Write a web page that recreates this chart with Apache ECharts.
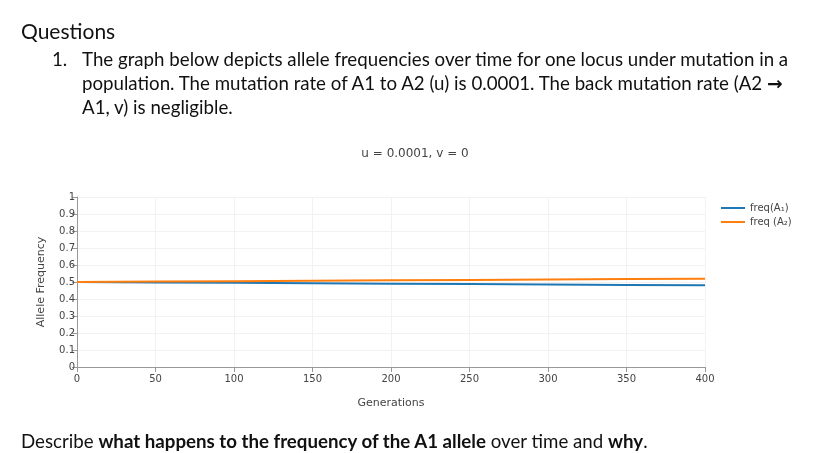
<!DOCTYPE html>
<html>
<head>
<meta charset="utf-8">
<script src="https://cdn.jsdelivr.net/npm/echarts@6/dist/echarts.min.js"></script>
<style>
  html, body { margin: 0; padding: 0; background: #fff; }
  #wrap { position: relative; width: 825px; height: 453px; overflow: hidden; }
  #chart { position: absolute; left: 0; top: 0; width: 825px; height: 453px; }
  .t { position: absolute; font-family: Lato, 'Noto Sans', sans-serif; color: #111; white-space: nowrap; font-size: 18.7px; }
  .arr { font-family: 'DejaVu Sans', sans-serif; font-weight: bold; }
</style>
</head>
<body>
<div id="wrap">
  <div id="chart"></div>
  <div class="t" style="left:21px;top:18px;font-size:21px;">Questions</div>
  <div class="t" style="left:52px;top:48px;">1.</div>
  <div class="t" style="left:82px;top:48px;">The graph below depicts allele frequencies over time for one locus under mutation in a</div>
  <div class="t" style="left:82px;top:72px;">population. The mutation rate of A1 to A2 (u) is 0.0001. The back mutation rate (A2 <span class="arr">&#x2192;</span></div>
  <div class="t" style="left:82px;top:96px;">A1, v) is negligible.</div>
  <div class="t" style="left:21px;top:430px;">Describe <b>what happens to the frequency of the A1 allele</b> over time and <b>why</b>.</div>
</div>
<script>
// generations sampled along the x axis
var generations = [0, 50, 100, 150, 200, 250, 300, 350, 400];
// values
var freqA1 = [0.5, 0.4975, 0.495, 0.4926, 0.4901, 0.4877, 0.4852, 0.4828, 0.4804];
var freqA2 = [0.5, 0.5025, 0.505, 0.5074, 0.5099, 0.5123, 0.5148, 0.5172, 0.5196];
var seriesNames = ['freq(A\u2081)', 'freq (A\u2082)'];
var seriesColors = ['#1f77b4', '#ff7f0e'];

function pairs(xs, ys) {
    var out = [];
    for (var i = 0; i < xs.length; i++) out.push([xs[i], ys[i]]);
    return out;
}

var chart = echarts.init(document.getElementById('chart'), null, { renderer: 'canvas' });
var axisFont = 'DejaVu Sans, Verdana, sans-serif';
chart.setOption({
    animation: false,
    title: {
        text: 'u = 0.0001, v = 0',
        left: 410, top: 143, textAlign: 'center',
        textStyle: { fontFamily: axisFont, fontSize: 12, fontWeight: 'normal', color: '#444' }
    },
    legend: {
        left: 716, top: 198, orient: 'vertical', itemGap: 4,
        itemWidth: 24, itemHeight: 2, icon: 'rect',
        textStyle: { fontFamily: axisFont, fontSize: 10, color: '#444' },
        data: seriesNames
    },
    grid: { left: 77, top: 197, width: 628, height: 170 },
    xAxis: {
        type: 'value', min: 0, max: 400, interval: 50,
        name: 'Generations', nameLocation: 'middle', nameGap: 31,
        nameTextStyle: { fontFamily: axisFont, fontSize: 11, color: '#444' },
        axisLine: { lineStyle: { color: '#999' } },
        axisTick: { show: true, length: 5, lineStyle: { color: '#999' } },
        axisLabel: { fontFamily: axisFont, fontSize: 10, color: '#444', margin: 7 },
        splitLine: { show: true, lineStyle: { color: '#f2f2f2' } }
    },
    yAxis: {
        type: 'value', min: 0, max: 1, interval: 0.1,
        name: 'Allele Frequency', nameLocation: 'middle', nameGap: 30,
        nameTextStyle: { fontFamily: axisFont, fontSize: 11, color: '#444' },
        axisLine: { show: true, lineStyle: { color: '#999' } },
        axisTick: { show: true, length: 5, lineStyle: { color: '#999' } },
        axisLabel: { fontFamily: axisFont, fontSize: 10, color: '#444', margin: 2 },
        splitLine: { show: true, lineStyle: { color: '#f2f2f2' } }
    },
    series: [
        { name: seriesNames[0], type: 'line', data: pairs(generations, freqA1), showSymbol: false,
          lineStyle: { width: 2, color: seriesColors[0] }, itemStyle: { color: seriesColors[0] } },
        { name: seriesNames[1], type: 'line', data: pairs(generations, freqA2), showSymbol: false,
          lineStyle: { width: 2, color: seriesColors[1] }, itemStyle: { color: seriesColors[1] } }
    ]
});
</script>
</body>
</html>
